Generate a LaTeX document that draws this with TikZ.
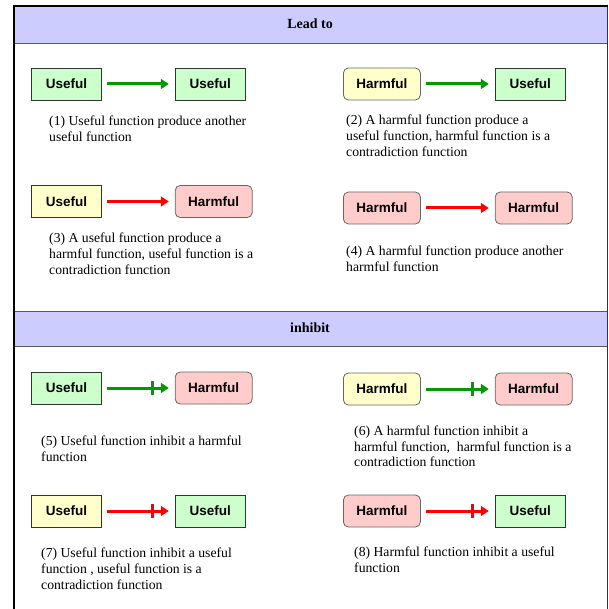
\documentclass[tikz,border=0pt]{standalone}
\usepackage{fontspec}
\setmainfont{Liberation Serif}
\setsansfont{Liberation Sans}
\usetikzlibrary{positioning, arrows.meta}
\definecolor{usefulfill}{HTML}{CCFFCC}
\definecolor{harmfulfill}{HTML}{FFCCCC}
\definecolor{contrafill}{HTML}{FFFFCC}
\definecolor{headfill}{HTML}{CCCCFF}
\definecolor{leadgreen}{HTML}{009900}
\definecolor{leadred}{HTML}{FF0000}
\tikzset{
usefulbox/.style={draw=black!80, line width=0.8pt, fill=usefulfill, minimum width=70pt, minimum height=32pt, inner sep=0pt, font=\sffamily\bfseries\fontsize{13.5}{14}\selectfont}, % square green box
harmfulbox/.style={usefulbox, draw=black!60, fill=harmfulfill, rounded corners=5pt, minimum width=77pt}, % rounded pink box
contra/.style={fill=contrafill}, % yellow: the function is a contradiction function
leads/.style={line width=3pt, shorten <=5pt, shorten >=6pt, -{Triangle[length=8pt,width=10pt]}},
inhibits/.style={line width=3pt, shorten <=5pt, shorten >=6pt, -{Bar[width=14pt,sep=6.5pt]Triangle[length=8pt,width=10pt]}},
caption/.style={anchor=north west, inner sep=0pt, align=left, font=\fontsize{13.7}{15.7}\selectfont},
header/.style={font=\bfseries\fontsize{14}{15}\selectfont},
}

\begin{document}
\begin{tikzpicture}[x=1pt, y=-1pt]
    \useasboundingbox (0,0) rectangle (609,609);
    % table frame and the two header rows
    \fill[headfill] (13,5) rectangle (608,43);
    \fill[headfill] (13,311) rectangle (608,346);
    \draw[black!65] (13,43) -- (608,43) (13,311) -- (608,311) (13,346) -- (608,346);
    \draw[black!80] (607.5,5) -- (607.5,609);
    \draw[line width=2pt] (14,609) -- (14,6) -- (608,6);
    \node[header] (lead) at (310,23.5) {Lead to};
    \node[header] (inhibit) at (310,327.5) {inhibit};

    % lead to
    \node[usefulbox, anchor=west] (u1) at (31,84) {Useful};
    \node[usefulbox, right=73pt of u1] (u2) {Useful};
    \node[harmfulbox, contra, anchor=west] (h3) at (343,84) {Harmful};
    \node[usefulbox, right=74pt of h3] (u4) {Useful};
    \node[usefulbox, contra, anchor=west] (u5) at (31,201.5) {Useful};
    \node[harmfulbox, right=73pt of u5] (h6) {Harmful};
    \node[harmfulbox, anchor=west] (h7) at (343,208) {Harmful};
    \node[harmfulbox, right=74pt of h7] (h8) {Harmful};
    \draw[leads, leadgreen] (u1) -- (u2);
    \draw[leads, leadgreen] (h3) -- (u4);
    \draw[leads, leadred] (u5) -- (h6);
    \draw[leads, leadred] (h7) -- (h8);
    \node[caption] (c1) at (49,115.5) {(1) Useful function produce another\\useful function};
    \node[caption] (c2) at (346,115) {(2) A harmful function produce a\\useful function, harmful function is a\\contradiction function};
    \node[caption] (c3) at (49,233) {(3) A useful function produce a\\harmful function, useful function is a\\contradiction function};
    \node[caption] (c4) at (346,246) {(4) A harmful function produce another\\harmful function};

    % inhibit
    \node[usefulbox, anchor=west] (u9) at (31,388) {Useful};
    \node[harmfulbox, right=73pt of u9] (h10) {Harmful};
    \node[harmfulbox, contra, anchor=west] (h11) at (343,389) {Harmful};
    \node[harmfulbox, right=74pt of h11] (h12) {Harmful};
    \node[usefulbox, contra, anchor=west] (u13) at (31,511) {Useful};
    \node[usefulbox, right=73pt of u13] (u14) {Useful};
    \node[harmfulbox, anchor=west] (h15) at (343,511) {Harmful};
    \node[usefulbox, right=74pt of h15] (u16) {Useful};
    \draw[inhibits, leadgreen] (u9) -- (h10);
    \draw[inhibits, leadgreen] (h11) -- (h12);
    \draw[inhibits, leadred] (u13) -- (u14);
    \draw[inhibits, leadred] (h15) -- (u16);
    \node[caption] (c5) at (41,436) {(5) Useful function inhibit a harmful\\function};
    \node[caption] (c6) at (354,425.5) {(6) A harmful function inhibit a\\harmful function,~ harmful function is a\\contradiction function};
    \node[caption] (c7) at (41,548) {(7) Useful function inhibit a useful\\function , useful function is a\\contradiction function};
    \node[caption] (c8) at (354,547) {(8) Harmful function inhibit a useful\\function};
\end{tikzpicture}
\end{document}
